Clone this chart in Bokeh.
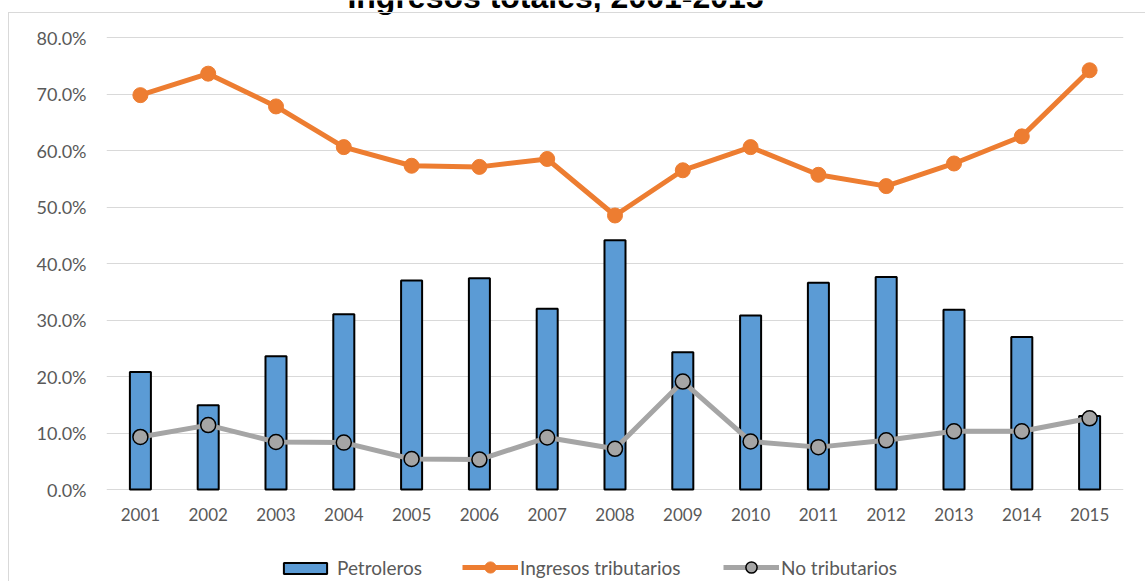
from bokeh.plotting import figure
from bokeh.models import (FactorRange, Range1d, FixedTicker, NumeralTickFormatter,
                          Legend, LegendItem, Label, ColumnDataSource, InlineStyleSheet)
from bokeh.embed import file_html
from bokeh.resources import INLINE

title_text = "Ingresos totales, 2001-2015"
years = ["2001", "2002", "2003", "2004", "2005", "2006", "2007", "2008",
         "2009", "2010", "2011", "2012", "2013", "2014", "2015"]
petroleros = [20.8, 14.9, 23.6, 31.0, 37.0, 37.4, 32.0, 44.1,
              24.3, 30.8, 36.6, 37.6, 31.8, 27.0, 13.0]
ingresos_tributarios = [69.8, 73.6, 67.8, 60.6, 57.3, 57.1, 58.5, 48.5,
                        56.5, 60.6, 55.7, 53.7, 57.7, 62.5, 74.2]
no_tributarios = [9.3, 11.4, 8.4, 8.3, 5.4, 5.3, 9.2, 7.2,
                  19.1, 8.5, 7.5, 8.7, 10.3, 10.3, 12.6]
y_ticks = [0, 10, 20, 30, 40, 50, 60, 70, 80]

src = ColumnDataSource(dict(
    year=years,
    pet=[v / 100 for v in petroleros],
    trib=[v / 100 for v in ingresos_tributarios],
    notrib=[v / 100 for v in no_tributarios],
))

FONT = "Lato"
GREY_TXT = "#595959"

# Frame covers the full canvas height; 0% sits at y=489 px, 80% at y=37 px.
H, TOP, BOT = 581, 37, 489
span = BOT - TOP
y_start = -0.8 * (H - BOT) / span
y_end = 0.8 * (1 + TOP / span)

p = figure(width=1145, height=H, x_range=FactorRange(factors=years, range_padding=0),
           y_range=Range1d(y_start, y_end), output_backend="svg",
           toolbar_location=None, title=None)
p.min_border_left = 106
p.min_border_right = 22
p.min_border_top = 0
p.min_border_bottom = 0
p.outline_line_color = None
p.background_fill_color = "white"
p.border_fill_color = "white"

r_bar = p.vbar(x="year", top="pet", width=0.31, source=src, fill_color="#5B9BD5",
               line_color="black", line_width=2)
r_gl = p.line(x="year", y="notrib", source=src, line_color="#A5A5A5", line_width=5)
r_gs = p.scatter(x="year", y="notrib", source=src, size=15, fill_color="#A5A5A5",
                 line_color="black", line_width=1.5)
r_ol = p.line(x="year", y="trib", source=src, line_color="#ED7D31", line_width=5)
r_os = p.scatter(x="year", y="trib", source=src, size=15, fill_color="#ED7D31",
                 line_color="#ED7D31")

p.xgrid.grid_line_color = None
p.ygrid.grid_line_color = "#D9D9D9"
p.ygrid.grid_line_width = 1

p.yaxis.ticker = FixedTicker(ticks=[t / 100 for t in y_ticks])
p.yaxis.formatter = NumeralTickFormatter(format="0.0%")
p.xaxis.fixed_location = 0
for ax in (p.xaxis[0], p.yaxis[0]):
    ax.axis_line_color = None
    ax.major_tick_line_color = None
    ax.minor_tick_line_color = None
    ax.major_tick_out = 0
    ax.major_tick_in = 0
    ax.major_label_text_font = FONT
    ax.major_label_text_font_size = "17px"
    ax.major_label_text_color = GREY_TXT
p.yaxis.major_label_text_font_size = "18px"
p.yaxis.major_label_standoff = 20
p.xaxis.major_label_standoff = 18

# title, partly above the visible canvas as in the reference
p.add_layout(Label(x=449, y=H + 4, x_units="screen", y_units="screen", text=title_text,
                   text_align="center", text_baseline="alphabetic",
                   text_font="Liberation Sans", text_font_style="bold",
                   text_font_size="32px", text_color="black"))

def make_legend(label, renderers, x, y, gw, gh, standoff):
    lg = Legend(items=[LegendItem(label=label, renderers=renderers)],
                location=(x, y), orientation="horizontal",
                border_line_color=None, background_fill_alpha=0,
                padding=0, margin=0, spacing=0, glyph_width=gw, glyph_height=gh,
                label_height=14, label_standoff=standoff, label_text_font=FONT,
                label_text_font_size="19px", label_text_color=GREY_TXT)
    p.add_layout(lg)

make_legend("Petroleros", [r_bar], 172, 2, 54, 14, 5)
make_legend("Ingresos tributarios", [r_ol, r_os], 356, 0, 56, 28, 2)
make_legend("No tributarios", [r_gl, r_gs], 617, 0, 56, 28, 2)

# light grey chart-area border (left and top edges), as in the reference
p.stylesheets = [InlineStyleSheet(css=":host::after {content: ''; position: absolute; "
                                      "left: 8px; top: 12px; right: 0; bottom: 0; "
                                      "border-left: 1.5px solid #D9D9D9; "
                                      "border-top: 1.5px solid #D9D9D9; "
                                      "pointer-events: none; z-index: 10;}")]

open("out.html", "w").write(file_html(p, INLINE))
